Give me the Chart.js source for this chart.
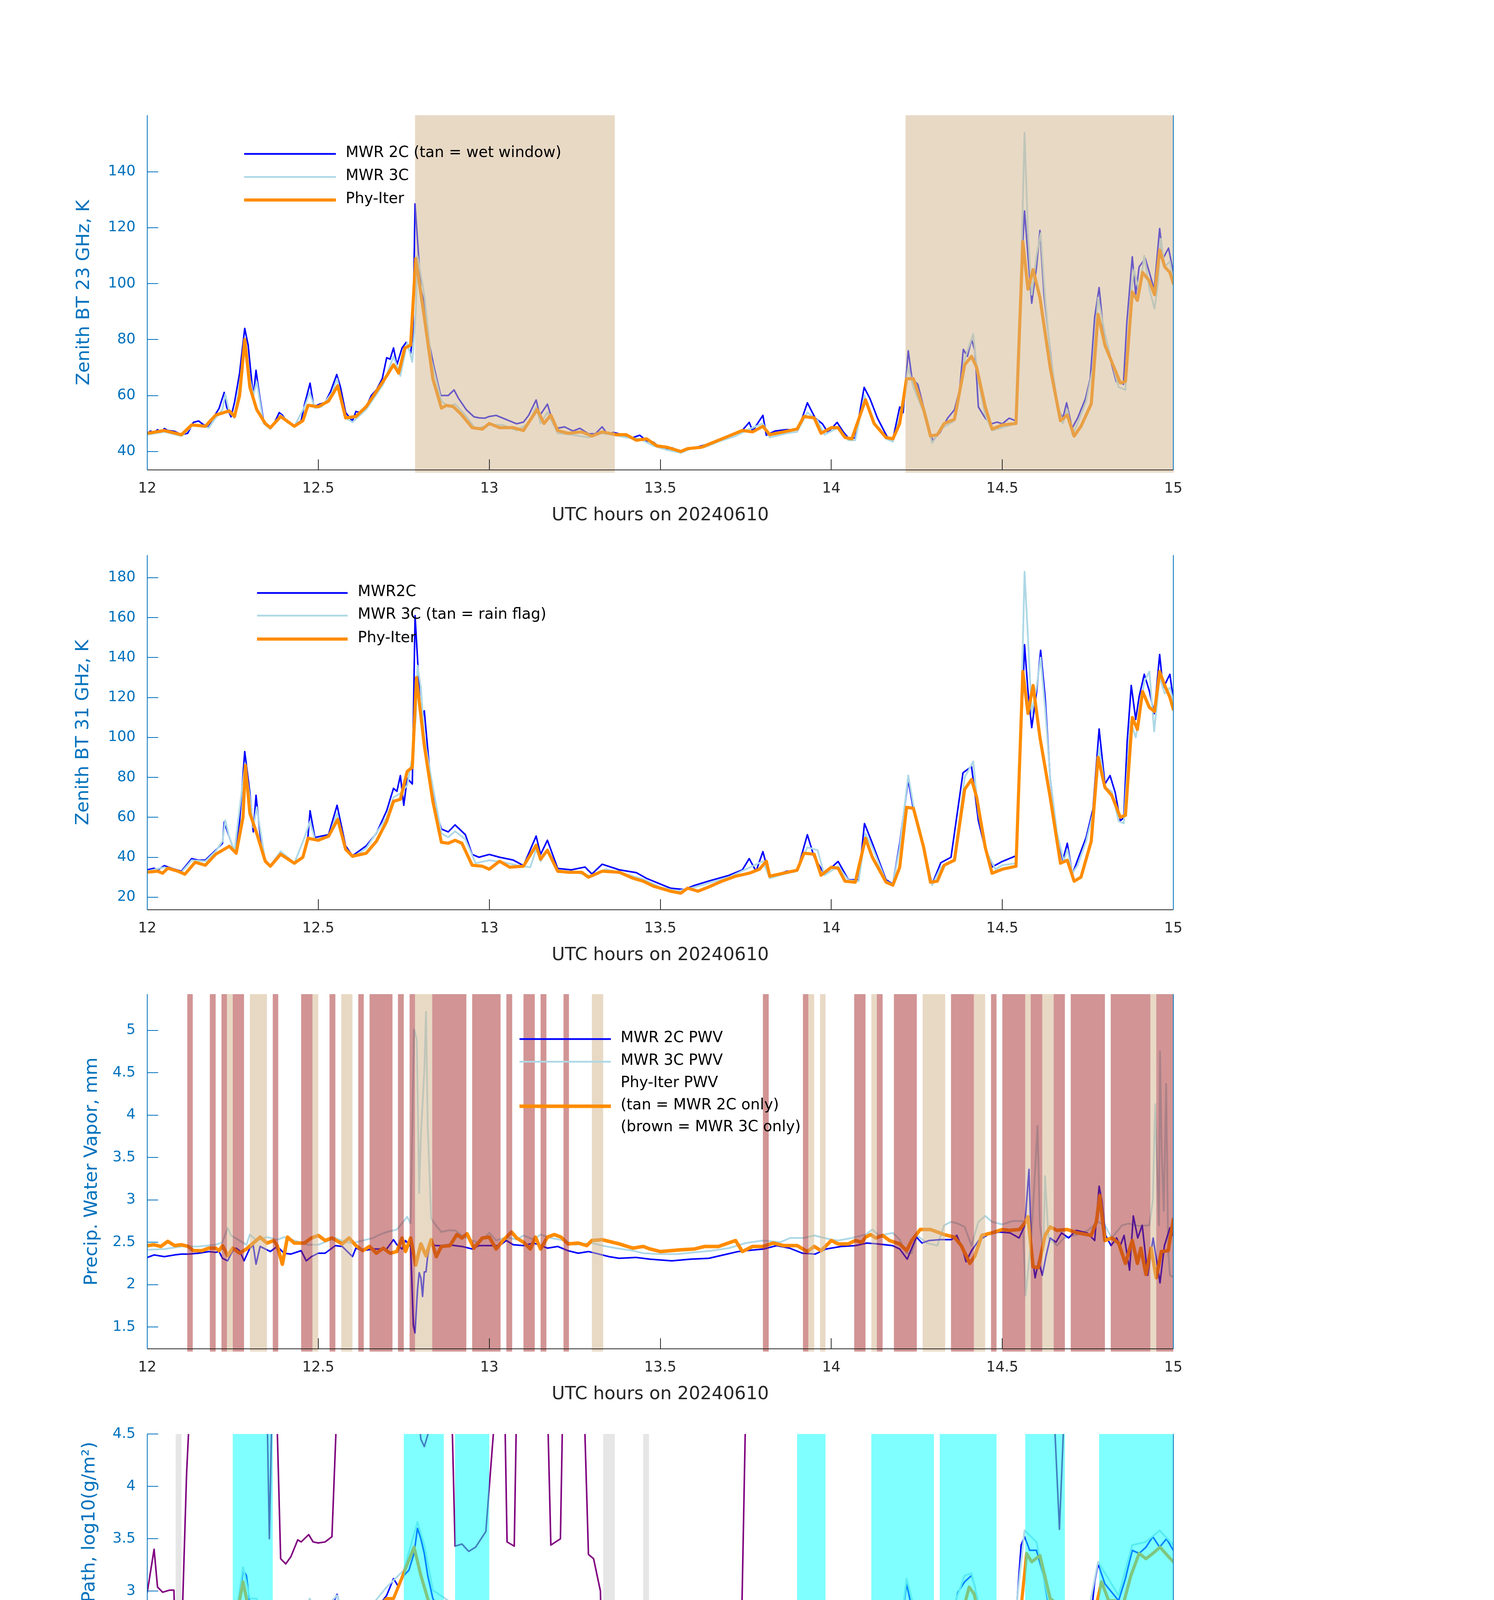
<!DOCTYPE html>
<html><head><meta charset="utf-8">
<script src="https://cdn.jsdelivr.net/npm/chart.js@4.4.1/dist/chart.umd.min.js"></script>
<style>
html,body{margin:0;padding:0;background:#fff;}
body{width:3825px;height:6000px;position:relative;overflow:hidden;}
canvas{position:absolute;left:0;}
</style></head><body>
<canvas id="c1" width="3825" height="1160"></canvas>
<canvas id="c2" width="3825" height="1160"></canvas>
<canvas id="c3" width="3825" height="1160"></canvas>
<canvas id="c4" width="3825" height="1160"></canvas>
<canvas id="c5" width="3825" height="1160"></canvas>
<script>
// ---------------- data ----------------
const xTicks = [12, 12.5, 13, 13.5, 14, 14.5, 15];
const xTickLabels = ['12','12.5','13','13.5','14','14.5','15'];

// Panel 1: Zenith BT 23 GHz
const bt23Ticks = [40,60,80,100,120,140];
const bt23_mwr2c = [[12.0,46.6],[12.01,47.3],[12.02,46.5],[12.03,47.8],[12.04,46.8],[12.05,48.2],[12.06,47.5],[12.08,47.2],[12.1,46],[12.118,46.5],[12.135,50.4],[12.15,50.9],[12.165,49.5],[12.18,48.8],[12.2,53.4],[12.21,55.4],[12.225,61.1],[12.232,55.9],[12.245,52.4],[12.255,57.5],[12.27,68],[12.285,84],[12.295,78],[12.31,59.4],[12.318,69],[12.327,61],[12.34,50.9],[12.358,48.3],[12.37,49.8],[12.386,53.9],[12.395,53],[12.41,50.4],[12.43,49.4],[12.45,51],[12.46,56.9],[12.476,64.4],[12.487,56],[12.504,56.9],[12.52,57.5],[12.536,61.4],[12.554,67.5],[12.565,63],[12.58,53.9],[12.6,50.9],[12.61,54.3],[12.625,53.8],[12.64,55.9],[12.655,60],[12.67,62],[12.687,66],[12.7,73.5],[12.71,73],[12.72,77],[12.73,71],[12.745,77],[12.757,79],[12.77,75],[12.777,82.5],[12.783,128.5],[12.79,116],[12.8,98],[12.81,93],[12.824,79],[12.837,71],[12.858,60],[12.88,60],[12.897,62],[12.91,59],[12.933,54.9],[12.955,52.4],[12.97,52],[12.987,51.9],[13.0,52.5],[13.02,52.9],[13.05,51.4],[13.08,49.9],[13.1,50.5],[13.115,52.9],[13.137,58.4],[13.148,52.9],[13.17,56.9],[13.185,50.9],[13.2,48.3],[13.22,48.8],[13.245,47.3],[13.265,48.3],[13.29,46.3],[13.31,46.3],[13.33,48.8],[13.345,46.3],[13.363,46.8],[13.395,45.8],[13.416,44.8],[13.44,45.8],[13.46,43.8],[13.48,43.3],[13.49,42.3],[13.513,40.8],[13.535,41.3],[13.556,40],[13.577,40.8],[13.6,41.3],[13.63,42.3],[13.674,44.3],[13.717,46.3],[13.738,47.3],[13.76,50.4],[13.77,47.3],[13.8,52.9],[13.81,45.8],[13.835,47.3],[13.867,47.8],[13.9,47.8],[13.915,52],[13.93,57.4],[13.953,51.9],[13.974,49.9],[13.99,46.8],[14.017,50.4],[14.035,47],[14.05,44.8],[14.07,44.8],[14.096,62.9],[14.113,58.9],[14.135,51.9],[14.163,45.3],[14.18,44.3],[14.2,55.9],[14.21,53.9],[14.225,76],[14.236,66],[14.253,64],[14.27,55.9],[14.296,43.8],[14.318,46.8],[14.34,51.9],[14.36,54.9],[14.375,62],[14.386,76.5],[14.398,74],[14.41,80],[14.42,76],[14.43,55.9],[14.45,51.9],[14.468,49.9],[14.485,50.5],[14.5,49.9],[14.52,51.9],[14.54,50.9],[14.554,101],[14.565,126],[14.575,110],[14.586,93],[14.6,106],[14.61,119],[14.622,96],[14.64,76],[14.66,55.9],[14.677,51.9],[14.688,57.4],[14.704,48.3],[14.72,51.9],[14.743,58.9],[14.757,66],[14.77,88],[14.783,98.6],[14.8,78],[14.81,76],[14.82,71],[14.833,65],[14.845,65],[14.854,64],[14.864,86],[14.88,109.6],[14.89,96],[14.9,106],[14.918,109],[14.93,104],[14.944,98],[14.96,119.7],[14.97,109],[14.986,112.7],[15.0,104]];
const bt23_mwr3c = [[12.0,46],[12.05,47],[12.1,45.5],[12.135,49.5],[12.18,48.5],[12.2,52],[12.22,55],[12.228,60.5],[12.24,54],[12.255,52],[12.27,64],[12.286,80],[12.3,66],[12.31,60],[12.32,65],[12.34,50],[12.36,48],[12.39,53],[12.43,49],[12.46,56],[12.475,61],[12.49,55.5],[12.51,56],[12.54,61],[12.555,66],[12.58,52],[12.6,50.5],[12.64,55],[12.69,64],[12.72,74],[12.74,67],[12.76,79],[12.775,72],[12.785,90],[12.79,110],[12.81,96],[12.83,73],[12.86,58],[12.88,56],[12.9,57],[12.93,53],[12.96,48],[13.0,49.5],[13.04,49.5],[13.08,47.5],[13.115,50],[13.137,56],[13.15,50],[13.17,54],[13.2,46.5],[13.24,46],[13.29,45],[13.33,46.5],[13.36,46],[13.4,45],[13.44,44.5],[13.48,42],[13.52,40.5],[13.56,39.5],[13.6,41.5],[13.63,41.5],[13.67,43.5],[13.72,45.5],[13.76,48],[13.8,50],[13.82,45],[13.87,46.5],[13.9,47],[13.93,54],[13.96,51],[13.98,46],[14.02,48.5],[14.05,44],[14.07,44],[14.097,60],[14.12,51],[14.16,44.5],[14.18,43.5],[14.2,52],[14.225,70],[14.24,63],[14.27,54],[14.295,43],[14.32,48],[14.36,51],[14.39,73],[14.415,82],[14.43,65],[14.45,53],[14.47,47.5],[14.5,48.5],[14.54,50],[14.555,105],[14.565,154],[14.575,118],[14.586,96],[14.6,110],[14.612,118],[14.625,95],[14.64,75],[14.66,58],[14.677,50],[14.69,55],[14.705,46],[14.72,50],[14.745,58],[14.765,70],[14.78,95],[14.8,82],[14.82,72],[14.84,63],[14.86,62],[14.875,95],[14.885,105],[14.9,97],[14.915,110],[14.93,98],[14.945,91],[14.955,100],[14.963,116],[14.975,106],[14.99,108],[15.0,101]];
const bt23_phy = [[12.0,46.5],[12.05,47.5],[12.1,46],[12.13,49.5],[12.17,49],[12.2,53],[12.24,54.5],[12.255,52.5],[12.27,60],[12.285,80],[12.3,63],[12.32,55],[12.345,50],[12.36,48.5],[12.39,52.5],[12.43,49],[12.455,51],[12.47,56.5],[12.5,56],[12.53,58],[12.557,63.5],[12.58,52],[12.61,52.5],[12.64,56],[12.7,67],[12.72,71],[12.735,68],[12.753,77],[12.77,78],[12.785,109],[12.81,88],[12.835,66],[12.86,55.5],[12.875,56.5],[12.895,56],[12.92,53],[12.95,48.5],[12.98,48],[13.0,50],[13.03,48.5],[13.07,48.5],[13.1,47.5],[13.14,55],[13.16,50],[13.18,53],[13.2,47.5],[13.23,46.5],[13.27,47],[13.3,45.5],[13.33,47],[13.37,46],[13.4,46],[13.43,44],[13.46,44.5],[13.49,42],[13.52,41.5],[13.56,40],[13.58,41],[13.62,41.5],[13.66,43.5],[13.7,45.5],[13.74,47.5],[13.77,47],[13.8,49],[13.82,46],[13.86,47],[13.9,48],[13.92,52.5],[13.95,52],[13.97,46.5],[14.0,48.5],[14.02,48.5],[14.04,45],[14.06,44.5],[14.1,58.5],[14.125,50],[14.16,45],[14.18,44.5],[14.2,50],[14.22,66],[14.24,66],[14.27,55],[14.29,45.5],[14.31,46],[14.33,50],[14.36,51.5],[14.39,71],[14.41,74],[14.425,70],[14.45,56],[14.47,48],[14.5,49.5],[14.54,50],[14.56,115],[14.575,98],[14.59,105],[14.61,95],[14.64,70],[14.67,51],[14.69,53],[14.71,45.5],[14.73,49],[14.76,57],[14.78,89],[14.8,78],[14.82,72],[14.845,64.5],[14.86,65],[14.88,97],[14.895,94],[14.91,104],[14.93,101],[14.945,96],[14.96,112],[14.975,106],[14.99,104],[15.0,100]];
const wetWindow = [[12.783,13.367],[14.217,15.004]];

// Panel 2: Zenith BT 31 GHz
const bt31Ticks = [20,40,60,80,100,120,140,160,180];
const bt31_mwr2c = [[12.0,33.7],[12.02,34.5],[12.03,33.5],[12.05,35.8],[12.07,34.5],[12.1,33],[12.13,39.3],[12.15,38.5],[12.17,38.6],[12.2,43.5],[12.22,47],[12.225,57.6],[12.24,50],[12.255,42.8],[12.27,58],[12.285,92.9],[12.3,72.4],[12.31,52.7],[12.318,71],[12.33,51.3],[12.345,38.6],[12.36,35.8],[12.39,42.8],[12.43,37.2],[12.455,40],[12.47,50.6],[12.476,63.3],[12.49,49.9],[12.53,51.3],[12.555,66],[12.58,45.7],[12.6,40.7],[12.64,45.7],[12.67,52],[12.7,63.3],[12.72,74.5],[12.73,73],[12.74,80.9],[12.75,66],[12.76,79.5],[12.775,76.7],[12.783,161],[12.79,140],[12.8,107.7],[12.81,113.3],[12.824,86.5],[12.84,65.4],[12.86,54.1],[12.88,52.7],[12.9,56.2],[12.93,51.3],[12.95,41.4],[12.97,40],[13.0,41.4],[13.03,40],[13.07,38.6],[13.1,35.8],[13.137,50.6],[13.15,41.4],[13.17,48.5],[13.2,34.4],[13.24,33.7],[13.28,35.1],[13.3,31.6],[13.33,36.5],[13.38,33.7],[13.43,32.3],[13.46,29.4],[13.5,26.6],[13.53,24.5],[13.57,23.8],[13.6,25.9],[13.64,28],[13.7,30.9],[13.74,33.7],[13.76,39.3],[13.78,33],[13.8,42.8],[13.82,30.1],[13.87,33],[13.9,33],[13.93,51.3],[13.95,40],[13.98,31.6],[14.02,37.9],[14.05,28.7],[14.08,28.7],[14.097,56.9],[14.12,47],[14.16,28.7],[14.18,26.6],[14.2,47],[14.225,78.8],[14.24,64],[14.26,51.3],[14.295,26.6],[14.32,37.2],[14.35,40],[14.385,82.3],[14.41,85.4],[14.43,58.3],[14.45,44.2],[14.47,35.1],[14.5,37.9],[14.54,40.7],[14.555,100.6],[14.565,146.4],[14.575,123.2],[14.586,104.9],[14.6,122.5],[14.612,143.6],[14.625,120.4],[14.64,79.5],[14.66,51.3],[14.677,38.6],[14.69,47],[14.705,31.6],[14.72,38.6],[14.745,49.9],[14.765,64],[14.783,104.2],[14.8,76.7],[14.815,80.9],[14.83,72.4],[14.845,58.3],[14.855,59.7],[14.865,97.8],[14.877,126],[14.89,109],[14.9,120.4],[14.915,131.6],[14.93,123.2],[14.944,111.9],[14.96,141.5],[14.97,124.6],[14.99,131.6],[15.0,119]];
const bt31_mwr3c = [[12.0,33],[12.05,35],[12.1,32.5],[12.13,38.5],[12.17,38],[12.2,43],[12.22,48],[12.228,58.5],[12.24,50],[12.255,43],[12.286,87],[12.3,70],[12.31,55],[12.32,65],[12.345,38],[12.36,35.5],[12.39,43],[12.43,37],[12.46,50],[12.476,58],[12.49,49],[12.53,50],[12.555,62],[12.58,44],[12.6,40],[12.64,44.5],[12.7,60],[12.72,70],[12.74,72],[12.76,76],[12.775,90],[12.785,110],[12.79,136],[12.8,125],[12.81,100],[12.83,80],[12.86,52],[12.88,50],[12.9,53],[12.93,49],[12.96,37],[13.0,38.5],[13.04,37.5],[13.08,36],[13.12,35],[13.137,44],[13.15,38],[13.17,44],[13.2,32.5],[13.25,32.5],[13.3,30.5],[13.34,34],[13.4,31.5],[13.45,29],[13.5,25],[13.55,23],[13.6,25],[13.65,27.5],[13.7,30],[13.75,34],[13.8,38],[13.82,29.5],[13.87,32],[13.9,33],[13.93,45],[13.96,43.5],[13.98,31],[14.02,35.5],[14.05,28.5],[14.08,28],[14.1,52],[14.12,45],[14.16,28],[14.18,26.5],[14.2,45],[14.225,81],[14.24,66],[14.26,53],[14.295,26],[14.32,35],[14.36,39],[14.39,80],[14.415,88],[14.43,62],[14.45,44],[14.48,34],[14.5,36],[14.54,37],[14.555,110],[14.565,183],[14.575,150],[14.586,112],[14.6,125],[14.612,140],[14.625,115],[14.64,80],[14.66,52],[14.68,38],[14.69,44],[14.705,32],[14.72,36],[14.745,48],[14.765,62],[14.783,95],[14.8,75],[14.82,73],[14.84,58],[14.855,57],[14.875,108],[14.89,100],[14.9,110],[14.915,128],[14.93,133],[14.944,103],[14.96,130],[14.975,122],[14.99,125],[15.0,118]];
const bt31_phy = [[12.0,32.5],[12.03,33],[12.045,32],[12.06,34.5],[12.09,33],[12.11,31.5],[12.14,37.5],[12.17,36],[12.2,41.5],[12.24,45.5],[12.26,42],[12.28,60],[12.287,86],[12.3,62],[12.32,52],[12.345,38],[12.36,35.5],[12.39,41.5],[12.43,37],[12.455,40],[12.47,49.5],[12.5,48.5],[12.53,50.5],[12.557,59],[12.58,44],[12.6,40.5],[12.64,42],[12.67,48],[12.7,58],[12.72,68],[12.74,69],[12.76,83],[12.775,85],[12.787,130],[12.81,96],[12.835,68],[12.86,47.5],[12.88,47],[12.9,48.5],[12.92,47],[12.95,36],[12.98,35.5],[13.0,34],[13.03,38],[13.06,35],[13.1,35.5],[13.137,46],[13.15,39],[13.17,43.5],[13.2,33],[13.23,32.5],[13.27,32.5],[13.29,30],[13.33,33],[13.38,32.5],[13.42,29.5],[13.45,28],[13.48,25.5],[13.5,24.5],[13.53,23],[13.56,22],[13.58,24.5],[13.61,23],[13.64,25],[13.68,28],[13.72,30.5],[13.76,32],[13.79,34],[13.81,38],[13.82,30.5],[13.86,32],[13.9,33.5],[13.92,42],[13.95,41.5],[13.97,31],[14.0,35],[14.02,34.5],[14.04,28],[14.07,27.5],[14.1,49.5],[14.12,40],[14.16,27.5],[14.18,26],[14.2,35],[14.22,65],[14.24,64.5],[14.27,45],[14.29,27.5],[14.31,28],[14.33,36],[14.36,38.5],[14.39,74],[14.41,79],[14.425,70],[14.45,45],[14.47,32],[14.5,34],[14.54,35.5],[14.56,133],[14.575,112],[14.59,126],[14.61,100],[14.64,70],[14.67,37],[14.69,38.5],[14.71,28],[14.73,30],[14.76,48],[14.78,90],[14.8,75],[14.82,71],[14.845,60],[14.86,61],[14.88,110],[14.895,104],[14.91,123],[14.93,115],[14.945,113],[14.96,133],[14.975,126],[14.99,120],[15.0,114]];

// Panel 3: Precipitable water vapour
const pwvTicks = [1.5,2,2.5,3,3.5,4,4.5,5];
const pwv_mwr2c = [[12.0,2.32],[12.02,2.35],[12.05,2.33],[12.08,2.35],[12.1,2.36],[12.12,2.36],[12.15,2.37],[12.18,2.39],[12.2,2.38],[12.21,2.39],[12.22,2.31],[12.235,2.28],[12.25,2.40],[12.26,2.43],[12.27,2.40],[12.283,2.28],[12.3,2.43],[12.31,2.46],[12.318,2.24],[12.33,2.45],[12.36,2.39],[12.38,2.45],[12.4,2.37],[12.42,2.36],[12.45,2.40],[12.465,2.28],[12.48,2.33],[12.5,2.37],[12.52,2.37],[12.55,2.46],[12.57,2.45],[12.6,2.33],[12.61,2.43],[12.63,2.40],[12.66,2.42],[12.7,2.42],[12.72,2.53],[12.73,2.47],[12.745,2.42],[12.755,2.52],[12.77,2.45],[12.778,1.52],[12.783,1.43],[12.79,1.93],[12.795,2.14],[12.8,2.08],[12.805,1.86],[12.81,2.15],[12.815,2.15],[12.82,2.34],[12.83,2.52],[12.84,2.46],[12.86,2.46],[12.88,2.47],[12.9,2.46],[12.92,2.45],[12.95,2.42],[12.97,2.46],[13.0,2.46],[13.03,2.46],[13.05,2.52],[13.07,2.47],[13.1,2.46],[13.13,2.49],[13.17,2.43],[13.2,2.45],[13.23,2.40],[13.26,2.37],[13.29,2.39],[13.32,2.36],[13.35,2.33],[13.38,2.31],[13.43,2.32],[13.47,2.30],[13.534,2.28],[13.588,2.30],[13.642,2.31],[13.695,2.36],[13.728,2.39],[13.75,2.40],[13.803,2.42],[13.84,2.46],[13.878,2.43],[13.916,2.37],[13.953,2.36],[13.985,2.42],[14.028,2.45],[14.071,2.46],[14.104,2.49],[14.136,2.48],[14.179,2.46],[14.2,2.42],[14.222,2.30],[14.232,2.40],[14.249,2.56],[14.265,2.49],[14.286,2.52],[14.318,2.53],[14.351,2.53],[14.367,2.58],[14.383,2.43],[14.394,2.27],[14.41,2.40],[14.431,2.52],[14.458,2.59],[14.49,2.62],[14.523,2.61],[14.549,2.55],[14.566,2.70],[14.578,3.36],[14.585,2.40],[14.596,2.08],[14.606,2.28],[14.617,2.11],[14.628,2.34],[14.64,2.55],[14.657,2.50],[14.673,2.61],[14.694,2.55],[14.716,2.64],[14.748,2.61],[14.77,2.52],[14.783,3.16],[14.791,2.99],[14.802,2.58],[14.818,2.46],[14.834,2.55],[14.845,2.46],[14.856,2.58],[14.872,2.17],[14.883,2.81],[14.896,2.55],[14.909,2.70],[14.925,2.11],[14.941,2.55],[14.961,2.02],[14.974,2.46],[14.99,2.67],[15.0,2.58]];
const pwv_mwr3c = [[12.0,2.41],[12.05,2.42],[12.1,2.45],[12.15,2.45],[12.2,2.47],[12.22,2.50],[12.235,2.67],[12.245,2.58],[12.27,2.52],[12.29,2.47],[12.3,2.59],[12.32,2.52],[12.35,2.56],[12.38,2.53],[12.4,2.56],[12.43,2.52],[12.47,2.47],[12.5,2.47],[12.55,2.55],[12.58,2.50],[12.6,2.49],[12.63,2.52],[12.66,2.55],[12.68,2.59],[12.7,2.62],[12.73,2.65],[12.76,2.80],[12.77,2.72],[12.78,5.01],[12.788,4.90],[12.795,3.08],[12.8,3.75],[12.81,4.52],[12.815,5.22],[12.82,3.87],[12.83,2.78],[12.84,2.72],[12.86,2.62],[12.88,2.64],[12.9,2.64],[12.92,2.58],[12.95,2.52],[12.97,2.49],[13.0,2.61],[13.02,2.52],[13.05,2.56],[13.08,2.53],[13.1,2.58],[13.13,2.53],[13.15,2.59],[13.18,2.55],[13.22,2.52],[13.25,2.47],[13.3,2.49],[13.33,2.46],[13.37,2.43],[13.42,2.40],[13.45,2.37],[13.5,2.36],[13.55,2.36],[13.6,2.38],[13.65,2.40],[13.7,2.43],[13.75,2.49],[13.8,2.52],[13.85,2.50],[13.88,2.55],[13.92,2.55],[13.95,2.58],[13.98,2.55],[14.0,2.53],[14.02,2.52],[14.06,2.55],[14.1,2.59],[14.12,2.65],[14.14,2.58],[14.18,2.61],[14.2,2.53],[14.22,2.37],[14.235,2.37],[14.25,2.58],[14.28,2.49],[14.31,2.46],[14.33,2.70],[14.35,2.74],[14.37,2.72],[14.39,2.68],[14.41,2.46],[14.43,2.74],[14.45,2.81],[14.47,2.74],[14.5,2.71],[14.53,2.75],[14.56,2.75],[14.568,1.87],[14.585,2.55],[14.603,3.87],[14.61,2.70],[14.62,2.40],[14.625,3.28],[14.635,2.55],[14.66,2.46],[14.68,2.55],[14.72,2.59],[14.75,2.64],[14.78,2.74],[14.8,2.70],[14.82,2.55],[14.85,2.70],[14.87,2.72],[14.9,2.69],[14.93,2.70],[14.94,2.99],[14.947,4.13],[14.952,3.42],[14.958,2.70],[14.961,4.75],[14.966,3.58],[14.972,2.87],[14.979,4.37],[14.985,2.40],[14.99,2.11],[15.0,2.09]];
const pwv_phy = [[12.0,2.46],[12.02,2.47],[12.04,2.45],[12.06,2.51],[12.08,2.46],[12.1,2.47],[12.12,2.45],[12.135,2.40],[12.16,2.40],[12.18,2.43],[12.2,2.43],[12.21,2.40],[12.22,2.46],[12.235,2.34],[12.25,2.43],[12.27,2.37],[12.29,2.42],[12.31,2.49],[12.33,2.56],[12.35,2.49],[12.37,2.52],[12.38,2.46],[12.395,2.24],[12.41,2.56],[12.43,2.49],[12.46,2.49],[12.48,2.55],[12.5,2.58],[12.52,2.52],[12.54,2.55],[12.57,2.48],[12.59,2.55],[12.61,2.46],[12.63,2.40],[12.65,2.45],[12.67,2.37],[12.69,2.43],[12.71,2.37],[12.73,2.39],[12.745,2.55],[12.755,2.39],[12.77,2.55],[12.785,2.23],[12.8,2.48],[12.815,2.34],[12.83,2.53],[12.845,2.33],[12.86,2.45],[12.885,2.46],[12.905,2.59],[12.92,2.55],[12.935,2.60],[12.955,2.43],[12.98,2.55],[13.0,2.56],[13.02,2.42],[13.04,2.52],[13.065,2.62],[13.08,2.55],[13.1,2.50],[13.12,2.42],[13.135,2.56],[13.15,2.42],[13.17,2.56],[13.19,2.59],[13.21,2.56],[13.23,2.48],[13.26,2.49],[13.285,2.46],[13.3,2.52],[13.33,2.53],[13.36,2.50],[13.38,2.48],[13.42,2.43],[13.45,2.45],[13.47,2.42],[13.5,2.39],[13.53,2.40],[13.56,2.41],[13.6,2.42],[13.63,2.45],[13.67,2.45],[13.72,2.52],[13.74,2.39],[13.77,2.45],[13.8,2.45],[13.83,2.49],[13.86,2.46],[13.9,2.46],[13.93,2.39],[13.95,2.45],[13.97,2.40],[14.0,2.52],[14.02,2.48],[14.05,2.48],[14.07,2.52],[14.09,2.50],[14.1,2.56],[14.115,2.59],[14.13,2.55],[14.15,2.58],[14.17,2.52],[14.2,2.48],[14.22,2.40],[14.235,2.52],[14.26,2.65],[14.29,2.65],[14.33,2.59],[14.36,2.56],[14.38,2.46],[14.405,2.25],[14.42,2.34],[14.44,2.58],[14.47,2.61],[14.5,2.65],[14.52,2.64],[14.55,2.65],[14.565,2.72],[14.575,2.80],[14.59,2.21],[14.605,2.20],[14.625,2.58],[14.64,2.68],[14.66,2.64],[14.69,2.65],[14.72,2.61],[14.76,2.58],[14.775,2.74],[14.785,3.05],[14.8,2.52],[14.82,2.55],[14.84,2.49],[14.86,2.25],[14.88,2.52],[14.895,2.25],[14.905,2.43],[14.92,2.12],[14.935,2.43],[14.95,2.08],[14.965,2.39],[14.985,2.40],[15.0,2.77]];
const mwr3cOnly = [[12.117,12.133],[12.183,12.2],[12.217,12.233],[12.25,12.283],[12.367,12.383],[12.45,12.483],[12.533,12.55],[12.617,12.633],[12.65,12.717],[12.733,12.75],[12.767,12.783],[12.833,12.933],[12.95,13.033],[13.05,13.067],[13.1,13.133],[13.15,13.167],[13.217,13.233],[13.8,13.817],[13.917,13.933],[14.067,14.1],[14.133,14.15],[14.183,14.25],[14.35,14.417],[14.467,14.483],[14.5,14.567],[14.583,14.617],[14.65,14.683],[14.7,14.8],[14.817,14.933],[14.95,15.0]];
const mwr2cOnly = [[12.233,12.25],[12.3,12.35],[12.483,12.5],[12.567,12.6],[12.783,12.833],[13.3,13.333],[13.933,13.95],[13.967,13.983],[14.117,14.133],[14.267,14.333],[14.417,14.45],[14.567,14.583],[14.617,14.65],[14.933,14.95]];

// Panel 4: log10 LWP
const lwpTicks = [1.5,2,2.5,3,3.5,4,4.5];
const lwp_mwr2c = [[12.0,2.41],[12.02,2.44],[12.03,2.37],[12.045,2.34],[12.06,2.48],[12.075,2.45],[12.09,2.42],[12.1,2.36],[12.11,2.34],[12.13,2.53],[12.15,2.50],[12.17,2.52],[12.2,2.61],[12.215,2.73],[12.225,2.88],[12.24,2.72],[12.255,2.61],[12.27,2.93],[12.28,3.20],[12.29,3.15],[12.3,2.88],[12.31,2.72],[12.32,2.88],[12.335,2.50],[12.35,2.46],[12.37,2.53],[12.4,2.73],[12.42,2.58],[12.44,2.50],[12.46,2.58],[12.475,2.91],[12.49,2.77],[12.5,2.73],[12.52,2.77],[12.535,2.83],[12.555,2.97],[12.57,2.77],[12.585,2.58],[12.6,2.64],[12.62,2.65],[12.64,2.72],[12.67,2.83],[12.7,2.96],[12.72,3.12],[12.735,3.04],[12.75,3.15],[12.765,3.20],[12.78,3.36],[12.79,3.60],[12.8,3.50],[12.81,3.36],[12.82,3.15],[12.835,2.93],[12.86,2.80],[12.88,2.85],[12.9,2.77],[12.92,2.66],[12.94,2.58],[12.96,2.58],[12.98,2.53],[13.0,2.50],[13.02,2.53],[13.04,2.42],[13.06,2.56],[13.08,2.42],[13.1,2.61],[13.14,2.77],[13.16,2.45],[13.18,2.56],[13.2,2.42],[13.22,2.23],[13.24,2.37],[13.26,2.23],[13.28,2.34],[13.3,2.29],[13.33,2.32],[13.36,2.40],[13.4,2.29],[13.44,2.34],[13.46,2.29],[13.48,2.07],[13.5,1.91],[13.52,1.75],[13.535,2.02],[13.55,1.83],[13.565,1.56],[13.58,2.07],[13.6,1.97],[13.62,1.76],[13.64,2.07],[13.66,2.13],[13.7,2.23],[13.72,2.34],[13.74,2.42],[13.76,2.37],[13.78,2.48],[13.8,2.40],[13.81,2.61],[13.82,2.23],[13.84,2.32],[13.87,2.34],[13.9,2.48],[13.92,2.77],[13.94,2.83],[13.96,2.48],[13.98,2.61],[14.0,2.42],[14.02,2.37],[14.04,2.23],[14.06,2.32],[14.08,2.10],[14.1,2.88],[14.12,2.72],[14.14,2.37],[14.16,2.13],[14.18,1.91],[14.2,2.56],[14.22,3.07],[14.24,2.77],[14.26,2.53],[14.28,2.29],[14.29,1.91],[14.31,2.31],[14.33,2.56],[14.35,2.69],[14.37,2.99],[14.39,3.09],[14.41,3.15],[14.42,3.04],[14.44,2.64],[14.46,2.42],[14.48,2.40],[14.5,2.53],[14.52,2.53],[14.54,2.77],[14.555,3.44],[14.565,3.52],[14.58,3.39],[14.6,3.39],[14.62,3.15],[14.64,2.77],[14.66,2.56],[14.675,2.77],[14.69,2.15],[14.71,2.34],[14.72,2.23],[14.74,2.56],[14.76,2.77],[14.77,3.09],[14.78,3.26],[14.8,3.07],[14.82,2.99],[14.84,2.91],[14.86,3.12],[14.88,3.39],[14.9,3.36],[14.92,3.42],[14.94,3.52],[14.96,3.42],[14.98,3.50],[15.0,3.39]];
const lwp_mwr3c = [[12.0,2.44],[12.03,2.41],[12.06,2.50],[12.1,2.40],[12.13,2.58],[12.2,2.66],[12.225,2.91],[12.255,2.66],[12.28,3.23],[12.3,2.93],[12.32,2.93],[12.35,2.50],[12.4,2.77],[12.44,2.56],[12.475,2.93],[12.5,2.77],[12.555,2.96],[12.585,2.66],[12.62,2.72],[12.7,3.04],[12.75,3.20],[12.79,3.66],[12.81,3.44],[12.835,3.01],[12.88,2.91],[12.92,2.72],[12.96,2.61],[13.0,2.56],[13.04,2.48],[13.08,2.50],[13.14,2.80],[13.16,2.53],[13.22,2.31],[13.3,2.37],[13.4,2.40],[13.48,2.13],[13.52,1.83],[13.565,1.48],[13.6,2.02],[13.64,2.13],[13.7,2.29],[13.8,2.45],[13.82,2.29],[13.9,2.53],[13.92,2.83],[13.96,2.56],[14.02,2.45],[14.08,2.18],[14.1,2.85],[14.14,2.45],[14.18,2.02],[14.22,3.12],[14.26,2.61],[14.29,2.02],[14.33,2.61],[14.39,3.15],[14.41,3.17],[14.46,2.48],[14.5,2.58],[14.54,2.83],[14.565,3.58],[14.6,3.47],[14.64,2.83],[14.675,2.83],[14.69,2.23],[14.74,2.61],[14.78,3.28],[14.84,2.96],[14.88,3.44],[14.92,3.47],[14.96,3.58],[15.0,3.44]];
const lwp_phy = [[12.0,2.45],[12.02,2.48],[12.045,2.44],[12.06,2.53],[12.08,2.50],[12.1,2.42],[12.12,2.31],[12.14,2.48],[12.16,2.45],[12.18,2.38],[12.2,2.53],[12.23,2.64],[12.25,2.56],[12.28,3.09],[12.3,2.77],[12.33,2.46],[12.35,2.53],[12.365,2.42],[12.38,2.80],[12.4,2.66],[12.42,2.58],[12.44,2.60],[12.47,2.83],[12.49,2.77],[12.52,2.83],[12.55,2.88],[12.58,2.50],[12.6,2.56],[12.65,2.77],[12.7,2.93],[12.72,2.93],[12.74,3.09],[12.78,3.42],[12.8,3.15],[12.82,2.93],[12.85,2.64],[12.87,2.69],[12.89,2.80],[12.92,2.64],[12.94,2.56],[12.96,2.50],[12.99,2.45],[13.02,2.53],[13.04,2.40],[13.07,2.29],[13.1,2.71],[13.12,2.40],[13.14,2.66],[13.17,2.45],[13.2,2.26],[13.22,2.29],[13.26,2.29],[13.29,2.42],[13.33,2.45],[13.36,2.40],[13.38,2.34],[13.4,2.40],[13.42,2.07],[13.44,2.10],[13.46,1.86],[13.48,1.97],[13.5,1.64],[13.52,2.07],[13.54,1.78],[13.56,1.97],[13.58,2.10],[13.6,2.23],[13.62,2.29],[13.66,2.40],[13.68,2.42],[13.7,2.31],[13.72,2.21],[13.74,2.26],[13.76,2.23],[13.78,2.29],[13.8,2.31],[13.82,2.31],[13.84,2.42],[13.87,2.45],[13.9,2.53],[13.94,2.53],[13.96,2.45],[13.974,2.21],[13.996,2.34],[14.02,2.29],[14.05,2.10],[14.07,2.05],[14.103,2.66],[14.124,2.45],[14.15,2.20],[14.174,1.94],[14.2,2.40],[14.225,2.88],[14.247,2.85],[14.27,2.45],[14.292,1.99],[14.318,2.39],[14.35,2.45],[14.38,2.75],[14.403,3.04],[14.418,2.97],[14.44,2.60],[14.457,2.23],[14.474,2.21],[14.51,2.34],[14.54,2.37],[14.571,3.36],[14.586,3.28],[14.61,3.34],[14.64,2.93],[14.66,2.88],[14.68,2.55],[14.704,2.10],[14.725,2.13],[14.75,2.70],[14.768,2.77],[14.79,3.09],[14.811,2.91],[14.83,2.91],[14.85,2.83],[14.876,3.15],[14.9,3.36],[14.92,3.31],[14.94,3.36],[14.961,3.42],[14.983,3.34],[15.0,3.28]];
const lwp_adiabatic = [[12.0,2.99],[12.02,3.40],[12.03,3.04],[12.045,2.99],[12.065,3.01],[12.078,3.01],[12.083,2.38],[12.092,1.31],[12.1,2.50],[12.115,4.12],[12.125,4.8],[12.35,4.8],[12.357,3.50],[12.365,4.8],[12.378,4.8],[12.39,3.31],[12.405,3.26],[12.42,3.33],[12.44,3.49],[12.45,3.47],[12.472,3.54],[12.485,3.47],[12.5,3.46],[12.52,3.47],[12.54,3.52],[12.555,4.8],[12.79,4.8],[12.8,4.45],[12.81,4.38],[12.83,4.6],[12.89,4.8],[12.9,3.43],[12.92,3.45],[12.94,3.38],[12.96,3.42],[12.99,3.57],[13.019,4.8],[13.045,4.8],[13.052,3.47],[13.073,3.43],[13.08,4.8],[13.17,4.8],[13.18,3.44],[13.208,3.50],[13.215,4.8],[13.277,4.8],[13.29,3.35],[13.305,3.31],[13.325,3.0],[13.335,1.33],[13.352,1.33],[13.363,1.97],[13.373,2.13],[13.395,2.37],[13.405,2.85],[13.42,2.85],[13.438,2.74],[13.444,2.45],[13.453,1.33],[13.466,2.72],[13.48,2.72],[13.49,2.56],[13.506,2.29],[13.524,2.50],[13.545,2.34],[13.562,1.83],[13.577,2.37],[13.6,2.45],[13.61,2.37],[13.63,2.45],[13.652,2.56],[13.674,2.58],[13.695,2.66],[13.717,2.80],[13.727,2.80],[13.738,2.73],[13.75,4.8],[14.65,4.8],[14.667,3.59],[14.682,4.8],[15.0,4.8]];
const cloudBands = [[12.25,12.367],[12.75,12.867],[12.9,13.0],[13.9,13.983],[14.117,14.3],[14.317,14.483],[14.567,14.683],[14.783,15.004]];
const grayBands = [[12.083,12.1],[13.333,13.367],[13.45,13.467]];

// Panel 5: DQ flag, minutes after 12 UTC at each flag value
const dqTicks = [0,2,4,6,8,10];
const dq0 = [0,1,2,3,4,6,7,8,9,10,11,12,13,14,22,24,26,27,29,30,31,33,34,35,36,37,38,39,40,41,44,53,60,61,62,63,64,65,66,67,68,69,70,71,72,73,74,75,76,77,78,79,82,83,84,85,86,88,89,90,91,92,93,94,95,96,97,98,99,100,101,102,103,104,105,106,107,108,109,110,111,112,113,119,120,121,122,123,124,125,126,138,149,150,151,152,161,162,163,164,165,166];
const dq4 = [5,80,81,87];
const dq6 = [17,23,25,28,32,42,43,45,46,47,48,52,115,133,143,144,153,154,155,156,158,159,167,168,173,174,175,176,177,178,179];
const dq7 = [167];
const dq9 = [45,46,47,48,49,114,115,116,127,128,129,132,133,134,135,142,143,144,145,154,155,156,157,158,159,170,171,172,174,175,176,177,178,179];
const dq10 = [15,16,17,18,19,20,45,46,47,48,49,50,54,58,59,114,115,116,127,128,129,130,131,132,133,134,135,139,140,141,142,143,144,145,146,147,154,155,156,157,158,159,170,171,172,173,174,175,176,177,178,179];
const dq11 = [15,16,17,18,19,20,21,45,46,47,48,49,50,51,54,55,56,57,58,59,114,115,116,117,118,127,128,129,130,131,132,133,134,135,136,137,139,140,141,142,143,144,145,146,147,148,154,155,156,157,158,159,160,167,168,169,170,171,172,173,174,175,176,177,178,179];

// ---------------- styling / helpers ----------------
const FONT = 'DejaVu Sans';
const BLUE = '#0000FF', LBLUE = '#ADD8E6', ORANGE = '#FF8C00', PURPLE = '#800080';
const AXBLUE = '#0072BD', AXDARK = '#262626';
const TAN = 'rgba(210,180,140,0.5)', BROWN = 'rgba(165,42,42,0.5)', CYAN = 'rgba(0,255,255,0.5)', GRAY = 'rgba(205,205,205,0.5)';

const pts = a => a.map(p => ({x: p[0], y: p[1]}));
const minutePts = (mins, flag) => mins.map(m => ({x: 12 + (m + 0.5) / 60, y: flag}));
function ln(label, data, color, width, order) {
  return {type: 'line', label, data: pts(data), borderColor: color, backgroundColor: color,
    borderWidth: width, pointRadius: 0, tension: 0, fill: false, order,
    borderJoinStyle: 'round', borderCapStyle: 'round'};
}

const deco = {
  id: 'deco',
  afterDatasetsDraw(chart, args, o) {
    const {ctx, chartArea: a, scales: {x}} = chart;
    ctx.save();
    ctx.beginPath(); ctx.rect(a.left, a.top, a.right - a.left + 1, a.bottom - a.top + 8); ctx.clip();
    (o.bands || []).forEach(b => {
      ctx.fillStyle = b.color;
      b.ranges.forEach(r => {
        const x0 = x.getPixelForValue(r[0]), x1 = x.getPixelForValue(r[1]);
        ctx.fillRect(x0, a.top, x1 - x0, a.bottom - a.top + 7);
      });
    });
    ctx.restore();
  },
  afterDraw(chart, args, o) {
    const {ctx, chartArea: a, scales: {x, y}} = chart;
    ctx.save();
    ctx.lineWidth = 2;
    ctx.strokeStyle = AXDARK;
    ctx.beginPath(); ctx.moveTo(a.left, a.bottom); ctx.lineTo(a.right, a.bottom); ctx.stroke();
    x.ticks.forEach(t => {
      if (t.value <= x.min || t.value >= x.max) return;
      const px = Math.round(x.getPixelForValue(t.value));
      ctx.beginPath(); ctx.moveTo(px, a.bottom); ctx.lineTo(px, a.bottom - 27); ctx.stroke();
    });
    ctx.strokeStyle = AXBLUE;
    ctx.beginPath();
    ctx.moveTo(a.left, a.top); ctx.lineTo(a.left, a.bottom);
    ctx.moveTo(a.right, a.top); ctx.lineTo(a.right, a.bottom);
    ctx.stroke();
    y.ticks.forEach(t => {
      const py = Math.round(y.getPixelForValue(t.value));
      ctx.beginPath(); ctx.moveTo(a.left, py); ctx.lineTo(a.left + 28, py); ctx.stroke();
    });
    const L = o.legend;
    if (L) {
      ctx.font = '38.5px "' + FONT + '"';
      ctx.textBaseline = 'middle'; ctx.textAlign = 'left';
      L.rows.forEach(r => {
        if (r.color) {
          ctx.strokeStyle = r.color; ctx.lineWidth = r.width; ctx.lineCap = 'butt';
          ctx.beginPath(); ctx.moveTo(a.left + L.x0, a.top + r.dy); ctx.lineTo(a.left + L.x1, a.top + r.dy); ctx.stroke();
        }
        ctx.fillStyle = '#000';
        ctx.fillText(r.text, a.left + L.tx, a.top + r.dy - 2);
      });
    }
    ctx.restore();
  }
};

function makePanel(id, areaTop, datasets, o) {
  const cv = document.getElementById(id);
  cv.style.top = (areaTop - 80) + 'px';
  return new Chart(cv, {
    type: 'line',
    data: {datasets},
    options: {
      responsive: false, animation: false, devicePixelRatio: 1,
      layout: {padding: {left: 0, top: 80, right: 821, bottom: 12}},
      plugins: {legend: {display: false}, tooltip: {enabled: false}, deco: {bands: o.bands, legend: o.legend}},
      scales: {
        x: {
          type: 'linear', min: 12, max: 15,
          afterBuildTicks: s => { s.ticks = xTicks.map(v => ({value: v})); },
          afterFit: s => { s.height = 160; },
          ticks: {font: {family: FONT, size: 37}, color: AXDARK, padding: 26, maxRotation: 0, autoSkip: false,
                  callback: (v, i) => xTickLabels[i]},
          grid: {display: false, drawTicks: false}, border: {display: false},
          title: {display: true, text: 'UTC hours on 20240610', color: AXDARK,
                  font: {family: FONT, size: 46}, padding: {top: 0, bottom: 15}}
        },
        y: {
          type: 'linear', min: o.ymin, max: o.ymax,
          afterBuildTicks: s => { s.ticks = o.yticks.map(v => ({value: v})); },
          afterFit: s => { s.width = 377; },
          ticks: {font: {family: FONT, size: 37}, color: AXBLUE, padding: 30, autoSkip: false,
                  callback: (v, i) => String(o.yticks[i])},
          grid: {display: false, drawTicks: false}, border: {display: false},
          title: {display: true, text: o.ytitle, color: AXBLUE,
                  font: {family: FONT, size: 47}, padding: {top: o.ytitlePad, bottom: 0}}
        }
      }
    },
    plugins: [deco]
  });
}

// Panel 1
makePanel('c1', 295, [
  ln('MWR 2C', bt23_mwr2c, BLUE, 4, 2),
  ln('MWR 3C', bt23_mwr3c, LBLUE, 4.5, 1),
  ln('Phy-Iter', bt23_phy, ORANGE, 8, 0)
], {ymin: 33.4, ymax: 160.2, yticks: bt23Ticks, ytitle: 'Zenith BT 23 GHz, K', ytitlePad: 188,
    bands: [{color: TAN, ranges: wetWindow}],
    legend: {x0: 248, x1: 483, tx: 508, rows: [
      {dy: 99, text: 'MWR 2C (tan = wet window)', color: BLUE, width: 4.5},
      {dy: 158, text: 'MWR 3C', color: LBLUE, width: 4.5},
      {dy: 217, text: 'Phy-Iter', color: ORANGE, width: 8}]}});

// Panel 2
makePanel('c2', 1421, [
  ln('MWR2C', bt31_mwr2c, BLUE, 4, 2),
  ln('MWR 3C', bt31_mwr3c, LBLUE, 4.5, 1),
  ln('Phy-Iter', bt31_phy, ORANGE, 8, 0)
], {ymin: 13.7, ymax: 191.3, yticks: bt31Ticks, ytitle: 'Zenith BT 31 GHz, K', ytitlePad: 186,
    bands: [],
    legend: {x0: 281, x1: 513, tx: 539, rows: [
      {dy: 97, text: 'MWR2C', color: BLUE, width: 4.5},
      {dy: 155, text: 'MWR 3C (tan = rain flag)', color: LBLUE, width: 4.5},
      {dy: 215, text: 'Phy-Iter', color: ORANGE, width: 8}]}});

// Panel 3
makePanel('c3', 2545, [
  ln('MWR 2C PWV', pwv_mwr2c, BLUE, 4, 1),
  ln('MWR 3C PWV', pwv_mwr3c, LBLUE, 4.5, 2),
  ln('Phy-Iter PWV', pwv_phy, ORANGE, 9, 0)
], {ymin: 1.242, ymax: 5.427, yticks: pwvTicks, ytitle: 'Precip. Water Vapor, mm', ytitlePad: 208,
    bands: [{color: BROWN, ranges: mwr3cOnly}, {color: TAN, ranges: mwr2cOnly}],
    legend: {x0: 953, x1: 1187, tx: 1212, rows: [
      {dy: 115, text: 'MWR 2C PWV', color: BLUE, width: 4.5},
      {dy: 173, text: 'MWR 3C PWV', color: LBLUE, width: 4.5},
      {dy: 230, text: 'Phy-Iter PWV'},
      {dy: 287, text: '(tan = MWR 2C only)', color: ORANGE, width: 9},
      {dy: 343, text: '(brown = MWR 3C only)'}]}});

// Panel 4
makePanel('c4', 3671, [
  ln('MWR 2C LWP', lwp_mwr2c, BLUE, 4, 3),
  ln('MWR 3C LWP', lwp_mwr3c, LBLUE, 4.5, 2),
  ln('Phy-Iter LWP', lwp_phy, ORANGE, 8, 0),
  ln('Adiabatic LWP', lwp_adiabatic, PURPLE, 4, 1)
], {ymin: 1.116, ymax: 4.5, yticks: lwpTicks, ytitle: 'log10 Liquid Water Path, log10(g/m²)', ytitlePad: 202,
    bands: [{color: CYAN, ranges: cloudBands}, {color: GRAY, ranges: grayBands}],
    legend: {x0: 171, x1: 405, tx: 430, rows: [
      {dy: 668, text: 'MWR 2C LWP', color: BLUE, width: 4.5},
      {dy: 725, text: 'MWR 3C LWP', color: LBLUE, width: 4.5},
      {dy: 783, text: 'Phy-Iter LWP', color: ORANGE, width: 8},
      {dy: 841, text: 'Adiabatic LWP', color: PURPLE, width: 4.5}]}});

// Panel 5
const dqPoints = [].concat(minutePts(dq0, 0), minutePts(dq4, 4), minutePts(dq6, 6), minutePts(dq7, 7),
  minutePts(dq9, 9), minutePts(dq10, 10), minutePts(dq11, 11));
makePanel('c5', 4795, [
  {type: 'scatter', label: 'DQ flag', data: dqPoints, showLine: false, pointRadius: 4.5,
   pointBackgroundColor: ORANGE, pointBorderWidth: 0, pointStyle: 'circle'}
], {ymin: -0.5, ymax: 11.52, yticks: dqTicks, ytitle: 'MWR Phy Iter DQ Flag', ytitlePad: 214, bands: []});
</script>
</body></html>
